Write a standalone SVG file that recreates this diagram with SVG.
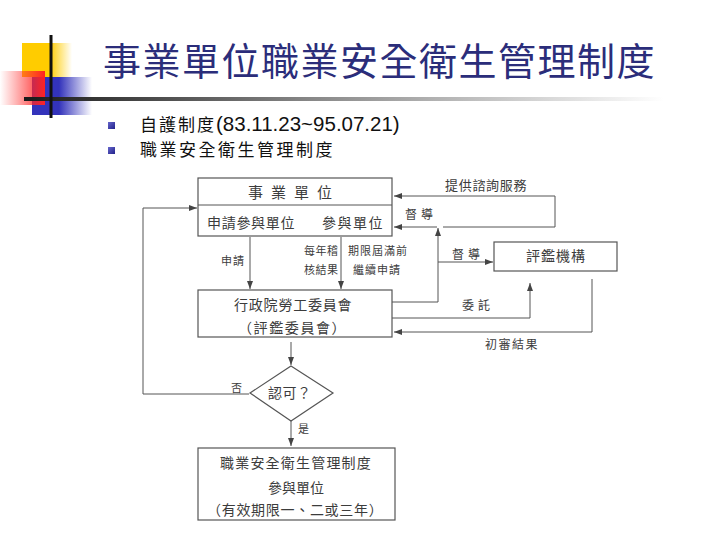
<svg xmlns="http://www.w3.org/2000/svg" width="720" height="540" viewBox="0 0 720 540">
<defs>
<linearGradient id="gY" x1="0" y1="0" x2="1" y2="0"><stop offset="0" stop-color="#ffcc00"/><stop offset="0.55" stop-color="#ffcc00"/><stop offset="1" stop-color="#ffcc00" stop-opacity="0"/></linearGradient>
<linearGradient id="gB" x1="0" y1="0" x2="1" y2="0"><stop offset="0" stop-color="#3333bb"/><stop offset="0.45" stop-color="#3333bb"/><stop offset="1" stop-color="#3333bb" stop-opacity="0"/></linearGradient>
<linearGradient id="gR" x1="0" y1="0" x2="1" y2="0"><stop offset="0" stop-color="#ff3333" stop-opacity="0"/><stop offset="1" stop-color="#ff2222"/></linearGradient>
<linearGradient id="gL" x1="0" y1="0" x2="1" y2="0"><stop offset="0" stop-color="#1a1a1a"/><stop offset="0.45" stop-color="#888"/><stop offset="1" stop-color="#fff"/></linearGradient>
<linearGradient id="gBul" x1="0" y1="0" x2="1" y2="1"><stop offset="0" stop-color="#6666cc"/><stop offset="1" stop-color="#22228a"/></linearGradient>
<marker id="ah" viewBox="0 0 8 6" refX="8" refY="3" markerWidth="8" markerHeight="6" markerUnits="userSpaceOnUse" orient="auto"><path d="M0,0 L8,3 L0,6 z" fill="#444"/></marker>
</defs>
<style>
.t{font-family:"Noto Sans CJK TC","Noto Sans CJK SC",sans-serif;fill:#3c3c3c}
.ln{fill:none;stroke:#555;stroke-width:1}
.bx{fill:none;stroke:#555;stroke-width:1.2}
</style>
<rect width="720" height="540" fill="#fff"/>
<g id="decoration">
<rect x="22" y="43" width="50" height="34" fill="url(#gY)"/>
<rect x="32" y="77" width="60" height="38" fill="url(#gB)"/>
<rect x="0" y="71" width="45" height="34" fill="url(#gR)"/>
<rect x="24" y="97" width="640" height="4" fill="url(#gL)"/>
<rect x="49.5" y="35" width="3" height="83" fill="#111"/>
</g>
<text x="103" y="75" font-family="Noto Sans CJK TC, sans-serif" font-size="38" letter-spacing="1.5" fill="#2b2d7a">事業單位職業安全衛生管理制度</text>
<g id="bullets">
<rect x="108" y="122" width="7" height="7" fill="url(#gBul)"/>
<rect x="108" y="147" width="7" height="7" fill="url(#gBul)"/>
<text x="140" y="131" font-size="17" letter-spacing="2" fill="#111" font-family="Noto Sans CJK TC, sans-serif">自護制度<tspan font-family="Liberation Sans, sans-serif" font-size="20.5" letter-spacing="0">(83.11.23~95.07.21)</tspan></text>
<text x="140" y="156" font-size="17" letter-spacing="2.5" fill="#111" font-family="Noto Sans CJK TC, sans-serif">職業安全衛生管理制度</text>
</g>
<g id="connectors">
<polyline class="ln" points="250,237 250,289" marker-end="url(#ah)"/>
<polyline class="ln" points="341,237 341,289" marker-end="url(#ah)"/>
<polyline class="ln" points="443,227 555,227 555,196 394,196" marker-end="url(#ah)"/>
<polyline class="ln" points="437,227 394,227" marker-end="url(#ah)"/>
<polyline class="ln" points="392,302 438,302 438,228" marker-end="url(#ah)"/>
<polyline class="ln" points="438,262 493,262" marker-end="url(#ah)"/>
<polyline class="ln" points="392,318 530,318 530,283" marker-end="url(#ah)"/>
<polyline class="ln" points="592,279 592,332 394,332" marker-end="url(#ah)"/>
<polyline class="ln" points="291,342 291,365" marker-end="url(#ah)"/>
<polyline class="ln" points="291,421 291,446" marker-end="url(#ah)"/>
<polyline class="ln" points="249,394 143,394 143,208 197,208" marker-end="url(#ah)"/>
<text class="t" x="221" y="265" font-size="11" letter-spacing="1">申請</text>
<text class="t" x="304" y="255" font-size="11" letter-spacing="0.5">每年稽</text>
<text class="t" x="304" y="274" font-size="11" letter-spacing="0.5">核結果</text>
<text class="t" x="348" y="255" font-size="11" letter-spacing="1">期限屆滿前</text>
<text class="t" x="353" y="274" font-size="11" letter-spacing="1">繼續申請</text>
<text class="t" x="445" y="190" font-size="13" letter-spacing="0.7">提供諮詢服務</text>
<text class="t" x="405" y="219" font-size="12" letter-spacing="4">督導</text>
<text class="t" x="452" y="259" font-size="12" letter-spacing="4">督導</text>
<text class="t" x="462" y="310" font-size="12" letter-spacing="4">委託</text>
<text class="t" x="485" y="349" font-size="12" letter-spacing="1.5">初審結果</text>
<text class="t" x="231" y="392" font-size="11">否</text>
<text class="t" x="298" y="433" font-size="11">是</text>
</g>
<g id="node-enterprise">
<rect class="bx" x="198" y="178" width="194" height="58"/>
<line class="ln" x1="198" y1="205" x2="392" y2="205"/>
<text class="t" x="294" y="198" font-size="15" letter-spacing="8" text-anchor="middle">事業單位</text>
<text class="t" x="207" y="228" font-size="14" letter-spacing="0.7">申請參與單位</text>
<text class="t" x="322" y="228" font-size="14" letter-spacing="1.5">參與單位</text>
</g>
<g id="node-council">
<rect class="bx" x="198" y="290" width="194" height="47"/>
<text class="t" x="234" y="310" font-size="14" letter-spacing="0.8">行政院勞工委員會</text>
<text class="t" x="238" y="333" font-size="14" letter-spacing="1.6">（評鑑委員會）</text>
</g>
<g id="node-evaluator">
<rect class="bx" x="494" y="242" width="123" height="29"/>
<text class="t" x="556" y="261" font-size="14" letter-spacing="1" text-anchor="middle">評鑑機構</text>
</g>
<g id="node-decision">
<polygon class="bx" points="291,366 333,393 291,421 250,393"/>
<text class="t" x="268" y="398" font-size="14" letter-spacing="0.5">認可？</text>
</g>
<g id="node-result">
<rect class="bx" x="198" y="448" width="197" height="72"/>
<text class="t" x="220" y="468" font-size="14" letter-spacing="1.2">職業安全衛生管理制度</text>
<text class="t" x="268" y="493" font-size="14" letter-spacing="0">參與單位</text>
<text class="t" x="207" y="515" font-size="14" letter-spacing="0.7">（有效期限一、二或三年）</text>
</g>
</svg>
